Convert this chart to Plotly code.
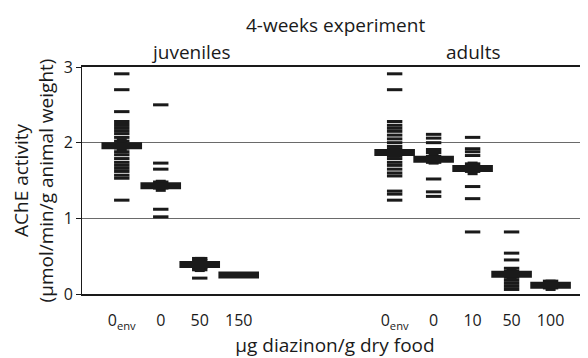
import plotly.graph_objects as go

# ---- data ----
juv_labels = ["0<sub>env</sub>", "0", "50", "150"]
adu_labels = ["0<sub>env</sub>", "0", "10", "50", "100"]

juv_points = [
    [2.91, 2.70, 2.41, 2.28, 2.24, 2.20, 2.16, 2.12, 2.07, 2.02, 1.98, 1.93,
     1.88, 1.84, 1.79, 1.74, 1.70, 1.66, 1.62, 1.57, 1.53, 1.24],
    [2.50, 1.73, 1.65, 1.48, 1.44, 1.40, 1.12, 1.02],
    [0.47, 0.44, 0.41, 0.38, 0.35, 0.32, 0.21],
    [0.27, 0.25, 0.24],
]
juv_mean = [1.96, 1.43, 0.39, 0.25]
juv_se = [0.10, 0.08, 0.10, 0.03]

adu_points = [
    [2.91, 2.70, 2.28, 2.23, 2.19, 2.15, 2.10, 2.05, 2.00, 1.95, 1.91, 1.83,
     1.79, 1.74, 1.70, 1.65, 1.60, 1.56, 1.36, 1.32, 1.24],
    [2.11, 2.06, 2.00, 1.91, 1.87, 1.82, 1.78, 1.74, 1.52, 1.35, 1.29],
    [2.07, 1.92, 1.88, 1.83, 1.72, 1.67, 1.62, 1.42, 1.26, 0.82],
    [0.82, 0.54, 0.45, 0.34, 0.30, 0.26, 0.22, 0.18, 0.14, 0.10, 0.06],
    [0.17, 0.14, 0.12, 0.10, 0.08],
]
adu_mean = [1.87, 1.78, 1.66, 0.26, 0.115]
adu_se = [0.07, 0.07, 0.09, 0.08, 0.075]

y_ticks = [0, 1, 2, 3]

# ---- layout of groups along x ----
GAP = 3  # empty slots between the two groups
juv_x = list(range(len(juv_labels)))
adu_x = [len(juv_labels) + GAP + i for i in range(len(adu_labels))]

FONT = "Open Sans"
INK = "#1a1a1a"
TXT = 19
TICK = 16

fig = go.Figure()

def add_group(xs, pts, means, ses):
    for x, p in zip(xs, pts):
        fig.add_trace(go.Scatter(
            x=[x] * len(p), y=p, mode="markers",
            marker=dict(symbol="line-ew", size=11,
                        line=dict(width=3, color=INK)),
            hoverinfo="y", showlegend=False))
    fig.add_trace(go.Scatter(
        x=xs, y=means, mode="markers",
        marker=dict(symbol="line-ew", size=29, line=dict(width=7, color=INK)),
        error_y=dict(type="data", array=ses, visible=True,
                     thickness=10, width=0, color=INK),
        hoverinfo="y", showlegend=False))

add_group(juv_x, juv_points, juv_mean, juv_se)
add_group(adu_x, adu_points, adu_mean, adu_se)

# the page body has an 8px default margin, so the figure is 8px smaller
fig.update_layout(
    width=580, height=350,
    margin=dict(l=74, r=0, t=59, b=64, autoexpand=False),
    paper_bgcolor="white", plot_bgcolor="white",
    font=dict(family=FONT, size=TXT, color=INK),
    showlegend=False,
    xaxis=dict(
        range=[-1.02, 11.96], automargin=False,
        tickmode="array", tickvals=juv_x + adu_x,
        ticktext=juv_labels + adu_labels,
        showgrid=False, zeroline=False,
        showline=True, linewidth=2, linecolor=INK, mirror=True,
        ticks="", ticklabelstandoff=11,
        tickfont=dict(size=TICK),
        title=dict(text="µg diazinon/g dry food", standoff=4,
                   font=dict(size=TXT)),
    ),
    yaxis=dict(
        range=[0, 3], automargin=False,
        tickmode="array", tickvals=y_ticks,
        showgrid=True, gridcolor="#6a6a6a", gridwidth=1,
        zeroline=False,
        showline=True, linewidth=1, linecolor=INK,
        ticks="outside", ticklen=5, tickcolor=INK, tickwidth=1,
        tickfont=dict(size=TICK),
        title=dict(text="AChE activity<br>(µmol/min/g animal weight)",
                   standoff=6, font=dict(size=TXT)),
    ),
    annotations=[
        dict(text="4-weeks experiment", xref="paper", yref="paper",
             x=0.5, y=1, yshift=42, showarrow=False, font=dict(size=TXT),
             yanchor="middle"),
        dict(text="juveniles", xref="x", yref="paper",
             x=1.78, y=1, yshift=15, showarrow=False, font=dict(size=TXT),
             yanchor="middle"),
        dict(text="adults", xref="x", yref="paper",
             x=adu_x[2], y=1, yshift=15, showarrow=False, font=dict(size=TXT),
             yanchor="middle"),
    ],
)

fig.write_html("out.html")
